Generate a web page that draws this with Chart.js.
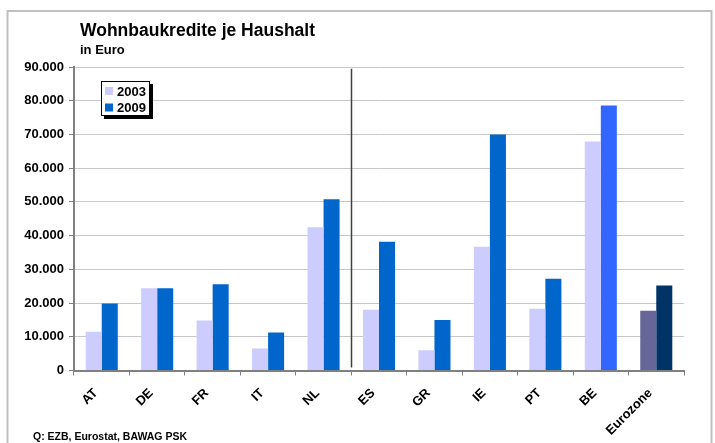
<!DOCTYPE html>
<html>
<head>
<meta charset="utf-8">
<script src="https://cdn.jsdelivr.net/npm/chart.js@4/dist/chart.umd.min.js"></script>
<style>
  html, body { margin: 0; padding: 0; background: #fff; }
  #wrap { width: 715px; height: 443px; position: relative; }
</style>
</head>
<body>
<div id="wrap"><canvas id="c"></canvas></div>
<script>
// ---- Data ----
const categories = ['AT', 'DE', 'FR', 'IT', 'NL', 'ES', 'GR', 'IE', 'PT', 'BE', 'Eurozone'];
const values2003 = [11500, 24400, 14800, 6500, 42500, 18000, 6000, 36700, 18300, 67900, 17700];
const values2009 = [19900, 24400, 25600, 11300, 50800, 38200, 15000, 70000, 27200, 78600, 25200];
const seriesLabels = ['2003', '2009'];
const yTicks = [0, 10000, 20000, 30000, 40000, 50000, 60000, 70000, 80000, 90000];
const titleText = 'Wohnbaukredite je Haushalt';
const subtitleText = 'in Euro';
const sourceText = 'Q: EZB, Eurostat, BAWAG PSK';

// ---- Styles ----
const FONT = "Arial, 'Liberation Sans', Helvetica, sans-serif";
const col2003 = '#CCCCFF', col2009 = '#0066CC';
function color2003(ctx) {
  return categories[ctx.dataIndex] === 'Eurozone' ? '#666699' : col2003;
}
function color2009(ctx) {
  const c = categories[ctx.dataIndex];
  if (c === 'Eurozone') return '#003366';
  if (c === 'BE') return '#3366FF';
  return col2009;
}
const fmt = v => v.toLocaleString('de-DE');

const decoPlugin = {
  id: 'deco',
  beforeDraw(chart) {
    const ctx = chart.ctx;
    ctx.save();
    ctx.fillStyle = '#fff';
    ctx.fillRect(0, 0, chart.width, chart.height);
    ctx.strokeStyle = '#c0c0c0';
    ctx.lineWidth = 2;
    ctx.beginPath();
    ctx.moveTo(7.5, 460);
    ctx.lineTo(7.5, 11);
    ctx.lineTo(711.5, 11);
    ctx.lineTo(711.5, 460);
    ctx.stroke();
    ctx.restore();
  },
  afterDraw(chart) {
    const ctx = chart.ctx;
    const xs = chart.scales.x, ys = chart.scales.y;
    ctx.save();
    ctx.fillStyle = '#000';
    ctx.textBaseline = 'alphabetic';
    ctx.textAlign = 'left';
    ctx.font = 'bold 17.5px ' + FONT;
    ctx.fillText(titleText, 80, 36);
    ctx.font = 'bold 13px ' + FONT;
    ctx.fillText(subtitleText, 80, 54);
    ctx.font = 'bold 10.5px ' + FONT;
    ctx.fillText(sourceText, 33, 440);
    // separator line between NL and ES
    const sx = Math.round((xs.getPixelForValue(4) + xs.getPixelForValue(5)) / 2) + 0.5;
    ctx.strokeStyle = '#404040';
    ctx.lineWidth = 1.5;
    ctx.beginPath();
    ctx.moveTo(sx, ys.getPixelForValue(89500));
    ctx.lineTo(sx, ys.getPixelForValue(0) - 3);
    ctx.stroke();
    // legend box
    const lx = 101, ly = 81, lw = 49, lh = 35;
    ctx.fillStyle = '#000';
    ctx.fillRect(lx + 3, ly + 3, lw, lh);
    ctx.fillStyle = '#fff';
    ctx.fillRect(lx, ly, lw, lh);
    ctx.strokeStyle = '#000';
    ctx.lineWidth = 1;
    ctx.strokeRect(lx + 0.5, ly + 0.5, lw - 1, lh - 1);
    ctx.font = 'bold 13px ' + FONT;
    ctx.textBaseline = 'middle';
    const legendCols = [col2003, col2009];
    chart.data.datasets.forEach((ds, i) => {
      const cy = ly + 10 + i * 16.5;
      ctx.fillStyle = legendCols[i];
      ctx.fillRect(lx + 4, cy - 4, 8, 8);
      ctx.fillStyle = '#000';
      ctx.fillText(ds.label, lx + 16, cy + 1);
    });
    ctx.restore();
  }
};

new Chart(document.getElementById('c'), {
  type: 'bar',
  data: {
    labels: categories,
    datasets: [
      { label: seriesLabels[0], data: values2003, backgroundColor: color2003,
        categoryPercentage: 0.578, barPercentage: 1.0 },
      { label: seriesLabels[1], data: values2009, backgroundColor: color2009,
        categoryPercentage: 0.578, barPercentage: 1.0 }
    ]
  },
  options: {
    responsive: true,
    maintainAspectRatio: false,
    animation: false,
    layout: { padding: { top: 67, right: 31, bottom: 0, left: 0 } },
    plugins: {
      legend: { display: false },
      title: { display: false },
      tooltip: { enabled: false }
    },
    scales: {
      x: {
        grid: { display: true, drawOnChartArea: false, drawTicks: true, tickLength: 5,
                tickColor: '#808080', offset: true, lineWidth: 1 },
        border: { color: '#808080', width: 2 },
        ticks: { color: '#000', font: { family: FONT, size: 13, weight: 'bold' },
                 minRotation: 45, maxRotation: 45, autoSkip: false, padding: 10, labelOffset: -6 },
        afterFit(s) { s.height = 72.5; }
      },
      y: {
        min: 0, max: 90000,
        afterBuildTicks(s) { s.ticks = yTicks.map(v => ({ value: v })); },
        grid: { color: '#c8c8c8', lineWidth: 1, tickLength: 5, tickColor: '#808080' },
        border: { color: '#808080', width: 2 },
        ticks: { color: '#000', font: { family: FONT, size: 13, weight: 'bold' },
                 padding: 5, callback: v => fmt(v) },
        afterFit(s) { s.width = 74; }
      }
    }
  },
  plugins: [decoPlugin]
});
</script>
</body>
</html>
